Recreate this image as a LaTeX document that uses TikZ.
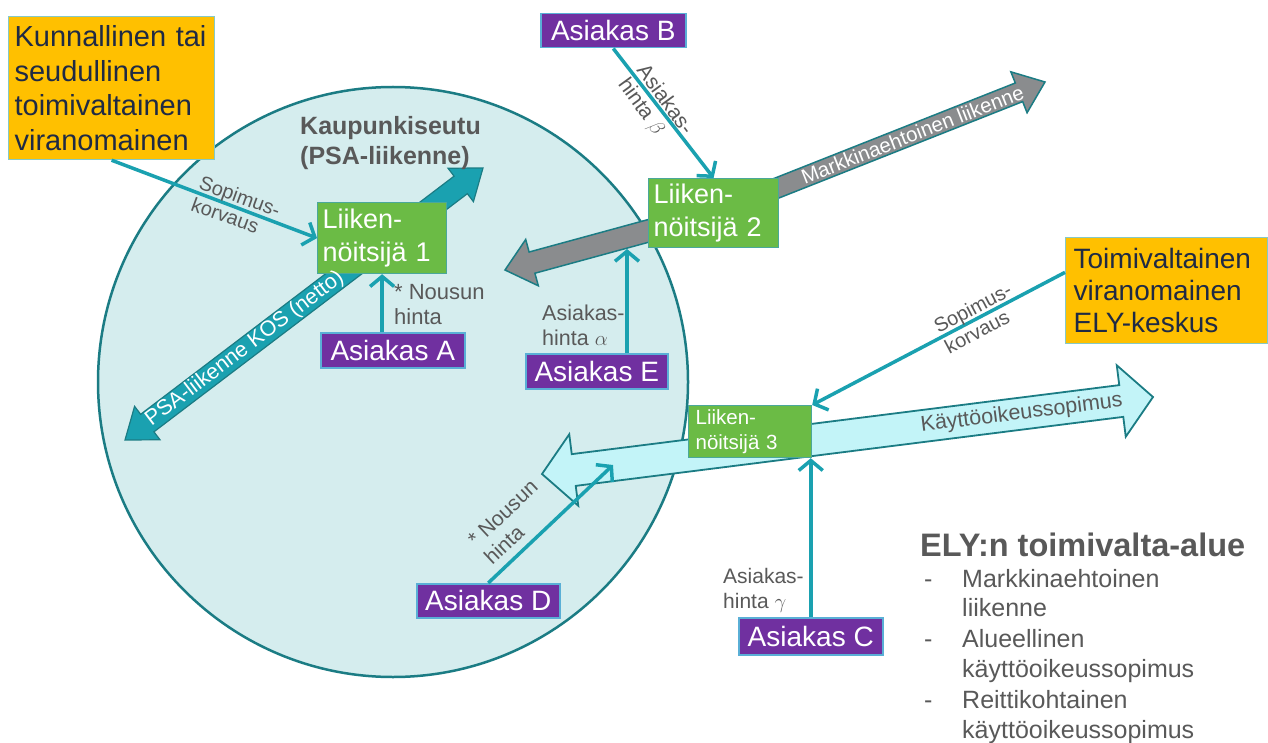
\documentclass[tikz,border=0pt]{standalone}
\usepackage{fontspec}
\setmainfont{Liberation Sans}
\usetikzlibrary{calc,arrows.meta}
\definecolor{teal1}{HTML}{1AA1B0}
\definecolor{tealdark}{HTML}{1B7C84}
\definecolor{circfill}{HTML}{D5EDEE}
\definecolor{purp}{HTML}{7030A0}
\definecolor{pborder}{HTML}{5AAFD6}
\definecolor{grn}{HTML}{6BBB45}
\definecolor{gborder}{HTML}{4AA89A}
\definecolor{orng}{HTML}{FFC000}
\definecolor{oborder}{HTML}{86C9C6}
\definecolor{navy}{HTML}{1F2A44}
\definecolor{txtgray}{HTML}{595959}
\definecolor{arrgray}{HTML}{8A8C8E}
\definecolor{kcyan}{HTML}{C3F4F8}
\pgfdeclarelayer{circ}\pgfdeclarelayer{bg}\pgfsetlayers{circ,bg,main}
% #1 style, #2 start, #3 end, #4 half shaft, #5 half head, #6 head length
\newcommand\mydblarrow[6]{%
  \path (#2) coordinate (da) (#3) coordinate (db);
  \path ($(da)!#6!(db)$) coordinate (ha) ($(db)!#6!(da)$) coordinate (hb);
  \draw[#1] (da) -- ($(ha)!#5!90:(db)$) -- ($(ha)!#4!90:(db)$) -- ($(hb)!#4!-90:(da)$)
    -- ($(hb)!#5!-90:(da)$) -- (db) -- ($(hb)!#5!90:(da)$) -- ($(hb)!#4!90:(da)$)
    -- ($(ha)!#4!-90:(db)$) -- ($(ha)!#5!-90:(db)$) -- cycle;}
\newcommand\mysglarrow[6]{%
  \path (#2) coordinate (da) (#3) coordinate (db);
  \path ($(db)!#6!(da)$) coordinate (hb);
  \draw[#1] ($(da)!#4!90:(db)$) -- ($(hb)!#4!-90:(da)$) -- ($(hb)!#5!-90:(da)$) -- (db)
    -- ($(hb)!#5!90:(da)$) -- ($(hb)!#4!90:(da)$) -- ($(da)!#4!-90:(db)$) -- cycle;}
\begin{document}
\begin{tikzpicture}[x=1pt,y=-1pt,
  obox/.style={draw=oborder, line width=1.2pt, fill=orng, text=navy, align=left, anchor=north west, inner ysep=0pt},
  gbox/.style={draw=gborder, line width=1.2pt, fill=grn, text=white, align=left, anchor=north west, inner ysep=0pt},
  pbox/.style={draw=pborder, line width=1.5pt, fill=purp, text=white, align=center, anchor=north west, inner sep=0pt, font=\fontsize{28}{32}\selectfont},
  conn/.style={draw=teal1, line width=3.5pt, -{Straight Barb[length=10pt,width=24pt]}},
  lbl/.style={text=txtgray, align=left, inner sep=0pt, font=\fontsize{20}{23}\selectfont},
  bigteal/.style={fill=teal1, draw=tealdark, line width=1.2pt},
  biggray/.style={fill=arrgray, draw=tealdark, line width=1.5pt},
  bigcyan/.style={fill=kcyan, draw=tealdark, line width=1.8pt},
  elyitem/.style={anchor=base west, inner sep=0pt, text=txtgray, font=\fontsize{25}{30}\selectfont}]
\useasboundingbox (0,0) rectangle (1268,743);

\begin{pgfonlayer}{circ}
\fill[white] (0,0) rectangle (1268,743);
\draw[fill=circfill, draw=tealdark, line width=2.5pt] (393,382) circle [radius=295pt];
\end{pgfonlayer}

% boxes
\node[obox, minimum width=206pt, minimum height=143pt, inner xsep=6pt, text width=194pt,
  font=\fontsize{29}{34.5}\selectfont] (kun) at (8,16) {Kunnallinen tai\\seudullinen\\toimivaltainen\\viranomainen};
\node[obox, minimum width=202pt, minimum height=106pt, inner xsep=8pt, text width=186pt,
  font=\fontsize{28}{32}\selectfont] (ely) at (1065,237) {Toimivaltainen\\viranomainen\\ELY-keskus};
\node[gbox, minimum width=129pt, minimum height=71pt, inner xsep=5pt, text width=119pt,
  font=\fontsize{27}{33}\selectfont] (l1) at (317,202) {Liiken-\\nöitsijä 1};
\node[gbox, minimum width=130pt, minimum height=69pt, inner xsep=5pt, text width=120pt,
  font=\fontsize{27}{33}\selectfont] (l2) at (648,178) {Liiken-\\nöitsijä 2};
\node[gbox, minimum width=123pt, minimum height=52pt, inner xsep=7pt, text width=109pt,
  font=\fontsize{20.5}{25}\selectfont] (l3) at (688,405) {Liiken-\\nöitsijä 3};
\node[pbox, minimum width=145pt, minimum height=34pt] (ab) at (540,13) {Asiakas B};
\node[pbox, minimum width=144pt, minimum height=35pt] (aa) at (320,332) {Asiakas A};
\node[pbox, minimum width=142pt, minimum height=35pt] (ae) at (525,353) {Asiakas E};
\node[pbox, minimum width=143pt, minimum height=34pt] (ad) at (416,583) {Asiakas D};
\node[pbox, minimum width=144pt, minimum height=37pt] (ac) at (738,617) {Asiakas C};

% title of the circle
\node[anchor=north west, align=left, inner sep=0pt, text=txtgray, font=\bfseries\fontsize{25}{30}\selectfont]
  (title) at (300,116) {Kaupunkiseutu\\(PSA-liikenne)};

% big arrows
\coordinate (psa1) at (125,440);
\coordinate (psa2) at (483,168);
\coordinate (mk) at (1045,82);
\coordinate (gl) at (505,270);
\coordinate (kt1) at (542,474);
\coordinate (kt2) at (1153,397);
\begin{pgfonlayer}{bg}
\mydblarrow{bigteal}{psa1}{psa2}{11pt}{21pt}{28pt}
\mysglarrow{biggray}{l2.center}{mk}{10pt}{22pt}{28pt}
\mysglarrow{biggray}{l2.center}{gl}{11pt}{24pt}{28pt}
\mydblarrow{bigcyan}{kt1}{kt2}{16pt}{36pt}{32pt}
\end{pgfonlayer}
\node[rotate=37.2, text=white, inner sep=0pt, font=\fontsize{21.5}{24}\selectfont] (psalbl)
  at ($(psa1)!0.335!(psa2)$) {PSA-liikenne KOS (netto)};
\node[rotate=21.4, text=white, inner sep=0pt, font=\fontsize{20.5}{23}\selectfont] (mklbl)
  at ($(l2.center)!0.6!(mk)$) {Markkinaehtoinen liikenne};
\node[rotate=7.1, text=txtgray, inner sep=0pt, font=\fontsize{21.5}{23}\selectfont] (ktlbl)
  at ($(kt1)!0.785!(kt2)$) {Käyttöoikeussopimus};

% connectors
\coordinate (aetip) at (627,249);
\coordinate (adtip) at (613,465);
\draw[conn] (kun.south) -- (l1.west);
\draw[conn] (aa.north -| l1.south) -- (l1.south);
\draw[conn] (ab.south) -- (l2.north);
\draw[conn] (ae.north -| aetip) -- (aetip);
\draw[conn] ($(ely.north west)!0.33!(ely.south west)$) -- (l3.north east);
\draw[conn] (ac.north) -- (ac.north |- l3.south);
\draw[conn] (ad.north) -- (adtip);

% connector labels
\node[lbl, rotate=-20, font=\fontsize{20}{23}\selectfont] (lsk1) at (236,207) {Sopimus-\\korvaus};
\node[lbl, anchor=north west, font=\fontsize{22}{25}\selectfont] (lna) at (394,284) {* Nousun\\hinta};
\node[lbl, rotate=-54, font=\fontsize{21}{23}\selectfont] (lab) at (655,107) {Asiakas-\\hinta $\beta$};
\node[lbl, anchor=north west, font=\fontsize{21.5}{25}\selectfont] (lae) at (542,305) {Asiakas-\\hinta $\alpha$};
\node[lbl, rotate=28, font=\fontsize{20}{23}\selectfont] (lsk2) at (978,318) {Sopimus-\\korvaus};
\node[lbl, anchor=north west, font=\fontsize{21}{25}\selectfont] (lac) at (723,568) {Asiakas-\\hinta $\gamma$};
\node[lbl, rotate=43, font=\fontsize{21}{24}\selectfont] (lnd) at (511,522) {* Nousun\\hinta};

% ELY area text
\node[anchor=base west, inner sep=0pt, text=txtgray, font=\bfseries\fontsize{32.5}{36}\selectfont] (elyt) at (920,556) {ELY:n toimivalta-alue};
\node[elyitem] (d1) at (924,587) {-};
\node[elyitem] (i1a) at (962,587) {Markkinaehtoinen};
\node[elyitem] (i1b) at (962,616) {liikenne};
\node[elyitem] (d2) at (924,647) {-};
\node[elyitem] (i2a) at (962,647) {Alueellinen};
\node[elyitem] (i2b) at (962,677) {käyttöoikeussopimus};
\node[elyitem] (d3) at (924,708) {-};
\node[elyitem] (i3a) at (962,708) {Reittikohtainen};
\node[elyitem] (i3b) at (962,738) {käyttöoikeussopimus};
\end{tikzpicture}
\end{document}
